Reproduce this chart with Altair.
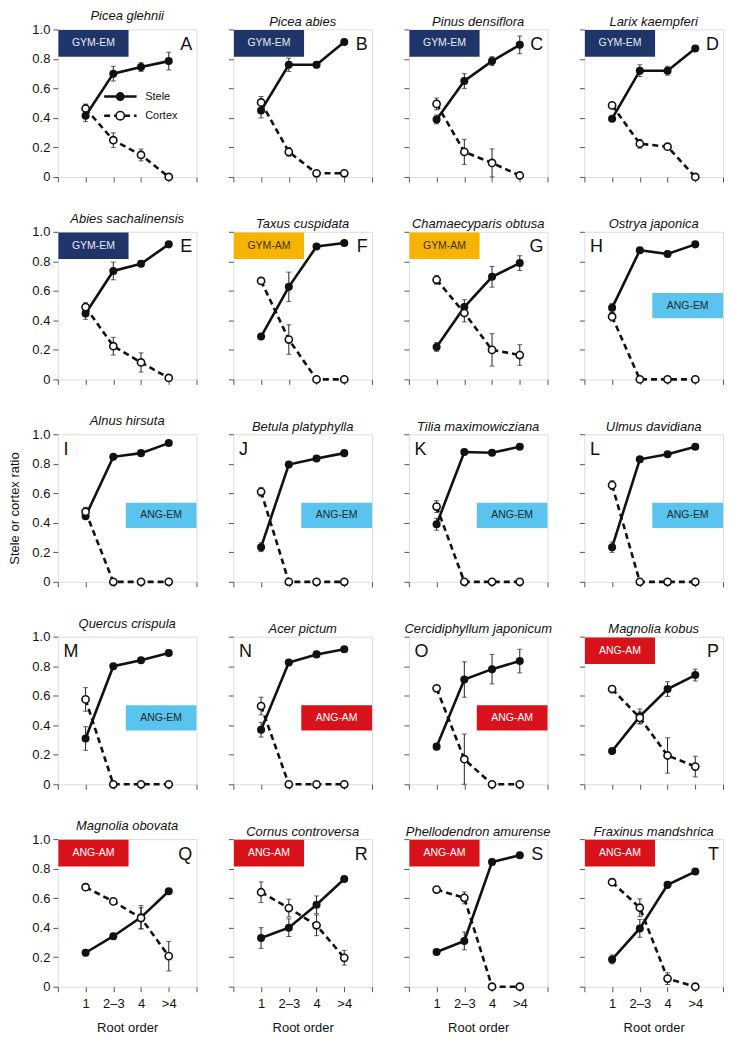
import altair as alt
import pandas as pd

FONT = "Liberation Sans"

species = ["Picea glehnii", "Picea abies", "Pinus densiflora", "Larix kaempferi",
           "Abies sachalinensis", "Taxus cuspidata", "Chamaecyparis obtusa", "Ostrya japonica",
           "Alnus hirsuta", "Betula platyphylla", "Tilia maximowicziana", "Ulmus davidiana",
           "Quercus crispula", "Acer pictum", "Cercidiphyllum japonicum", "Magnolia kobus",
           "Magnolia obovata", "Cornus controversa", "Phellodendron amurense", "Fraxinus mandshrica"]
letters = list("ABCDEFGHIJKLMNOPQRST")
groups = ["GYM-EM"] * 5 + ["GYM-AM"] * 2 + ["ANG-EM"] * 6 + ["ANG-AM"] * 7
x_labels = ["1", "2\u20133", "4", ">4"]
orders = [1, 2, 3, 4]

stele = [
    [0.415, 0.70, 0.745, 0.785], [0.45, 0.76, 0.76, 0.915], [0.39, 0.65, 0.785, 0.895],
    [0.395, 0.72, 0.72, 0.87], [0.447, 0.735, 0.784, 0.915], [0.29, 0.627, 0.90, 0.924],
    [0.22, 0.49, 0.695, 0.788], [0.485, 0.875, 0.85, 0.915], [0.445, 0.847, 0.872, 0.94],
    [0.235, 0.795, 0.835, 0.872], [0.39, 0.88, 0.875, 0.915], [0.235, 0.83, 0.865, 0.915],
    [0.31, 0.80, 0.84, 0.89], [0.37, 0.825, 0.88, 0.915], [0.255, 0.71, 0.78, 0.835],
    [0.225, 0.46, 0.645, 0.74], [0.23, 0.342, 0.47, 0.647], [0.33, 0.40, 0.555, 0.73],
    [0.235, 0.31, 0.845, 0.89], [0.185, 0.395, 0.69, 0.78],
]
stele_err = [
    [0.04, 0.05, 0.03, 0.06], [0.05, 0.045, 0.02, 0], [0.03, 0.05, 0.03, 0.06],
    [0, 0.04, 0.03, 0], [0.04, 0.06, 0.02, 0], [0, 0.1, 0, 0],
    [0.03, 0.05, 0.07, 0.05], [0.03, 0, 0.02, 0], [0.015, 0, 0, 0],
    [0.03, 0, 0, 0], [0.04, 0, 0, 0], [0.035, 0, 0, 0],
    [0.08, 0, 0, 0.02], [0.05, 0, 0, 0], [0, 0.12, 0.1, 0.08],
    [0, 0.05, 0.05, 0.04], [0.02, 0.02, 0.08, 0], [0.07, 0.06, 0.06, 0],
    [0, 0.06, 0.02, 0], [0.03, 0.06, 0.02, 0],
]
cortex = [
    [0.464, 0.249, 0.149, 0.0], [0.505, 0.17, 0.025, 0.025], [0.495, 0.17, 0.095, 0.01],
    [0.485, 0.225, 0.205, 0.0], [0.49, 0.225, 0.115, 0.01], [0.667, 0.27, 0.0, 0.0],
    [0.675, 0.45, 0.2, 0.165], [0.425, 0, 0, 0], [0.475, 0, 0, 0],
    [0.61, 0, 0, 0], [0.51, 0, 0, 0], [0.655, 0, 0, 0],
    [0.575, 0, 0, 0], [0.53, 0, 0, 0], [0.65, 0.17, 0.0, 0.0],
    [0.645, 0.45, 0.195, 0.12], [0.674, 0.578, 0.465, 0.207], [0.64, 0.533, 0.416, 0.196],
    [0.658, 0.602, 0.0, 0.0], [0.708, 0.535, 0.055, 0.0],
]
cortex_err = [
    [0.03, 0.05, 0.04, 0], [0.04, 0.03, 0, 0], [0.04, 0.085, 0.095, 0],
    [0, 0.03, 0, 0], [0.03, 0.06, 0.065, 0], [0, 0.1, 0, 0],
    [0.03, 0.06, 0.11, 0.07], [0.03, 0, 0, 0], [0.03, 0, 0, 0],
    [0.03, 0, 0, 0], [0.04, 0, 0, 0], [0.03, 0, 0, 0],
    [0.08, 0, 0, 0], [0.06, 0, 0, 0], [0, 0.17, 0, 0],
    [0, 0.04, 0.12, 0.07], [0, 0, 0.07, 0.1], [0.07, 0.06, 0.07, 0.05],
    [0, 0.04, 0, 0], [0, 0.06, 0.04, 0],
]
# placement of the group label box: top-left or middle-right
box_place = ["tl"] * 7 + ["mr"] * 8 + ["tl"] * 5

group_fill = {"GYM-EM": "#1f3468", "GYM-AM": "#f6b400", "ANG-EM": "#5bc4ee", "ANG-AM": "#d7121b"}
group_text = {"GYM-EM": "#e8e8f0", "GYM-AM": "#3a3020", "ANG-EM": "#1c2a33", "ANG-AM": "#ffffff"}

W, H = 139, 148
xscale = alt.Scale(domain=[0, 5], nice=False, zero=False)
yscale = alt.Scale(domain=[0, 1], nice=False)
lab_list = "[" + ",".join("'" + s + "'" for s in x_labels) + "]"
x_label_expr = f"datum.value >= 1 && datum.value <= 4 ? {lab_list}[datum.value - 1] : ''"


def panel(i):
    row, col = divmod(i, 4)
    bottom = row == 4
    left = col == 0
    xaxis = alt.Axis(values=[0, 1, 2, 3, 4, 5], labels=bottom, labelExpr=x_label_expr,
                     title="Root order" if bottom else None, ticks=True, tickSize=5,
                     tickColor="#555", domain=False, grid=False, labelFontSize=13,
                     labelPadding=6, titleFontSize=13, titleFontWeight="normal",
                     titlePadding=11, labelFont=FONT, titleFont=FONT, labelColor="#111",
                     titleColor="#111")
    yaxis = alt.Axis(values=[0, 0.2, 0.4, 0.6, 0.8, 1.0], labels=left,
                     labelExpr="datum.value == 0 ? '0' : format(datum.value, '.1f')",
                     title="Stele or cortex ratio" if (left and row == 2) else None,
                     tickSize=5, tickColor="#555", domain=False, grid=False,
                     labelFontSize=13, labelPadding=3, titleFontSize=13,
                     titleFontWeight="normal", titlePadding=10, labelFont=FONT,
                     titleFont=FONT, labelColor="#111", titleColor="#111")
    X = alt.X("x:Q", scale=xscale, axis=xaxis)
    Y = alt.Y("v:Q", scale=yscale, axis=yaxis)

    sd = pd.DataFrame({"x": orders, "v": stele[i], "err": stele_err[i]})
    cd = pd.DataFrame({"x": orders, "v": cortex[i], "err": cortex_err[i]})
    ed = pd.concat([sd, cd])
    ed = ed[ed["err"] > 0].copy()
    ed["lo"] = ed["v"] - ed["err"]
    ed["hi"] = ed["v"] + ed["err"]

    g = groups[i]
    if box_place[i] == "tl":
        bx = {"x": 0.02, "x2": 2.55, "v": 0.995, "v2": 0.815}
        lx, lalign = 4.85, "right"
    else:
        top = 0.585 if letters[i] == "H" else 0.535
        bx = {"x": 2.45, "x2": 5.0, "v": top, "v2": top - 0.17}
        lx, lalign = 0.2, "left"
    bd = pd.DataFrame([{**bx, "xm": (bx["x"] + bx["x2"]) / 2, "vm": (bx["v"] + bx["v2"]) / 2,
                        "label": g}])
    ld = pd.DataFrame({"x": [lx], "v": [0.895], "label": [letters[i]]})

    layers = [
        alt.Chart(bd).mark_rect(color=group_fill[g]).encode(
            x=X, x2="x2:Q", y=Y, y2="v2:Q"),
        alt.Chart(bd).mark_text(color=group_text[g], fontSize=10.5, font=FONT).encode(
            x=alt.X("xm:Q", scale=xscale, axis=xaxis), y=alt.Y("vm:Q", scale=yscale, axis=yaxis),
            text="label:N"),
        alt.Chart(ld).mark_text(fontSize=18, font=FONT, align=lalign, color="#111").encode(
            x=X, y=Y, text="label:N"),
        alt.Chart(cd).mark_line(color="#111", strokeWidth=2.6, strokeDash=[6, 4]).encode(x=X, y=Y),
        alt.Chart(sd).mark_line(color="#111", strokeWidth=2.6).encode(x=X, y=Y),
    ]
    if len(ed):
        layers += [
            alt.Chart(ed).mark_rule(color="#222", strokeWidth=1).encode(
                x=X, y=alt.Y("lo:Q", scale=yscale, axis=yaxis), y2="hi:Q"),
            alt.Chart(ed).mark_tick(color="#222", orient="horizontal", size=5, thickness=1).encode(
                x=X, y=alt.Y("lo:Q", scale=yscale, axis=yaxis)),
            alt.Chart(ed).mark_tick(color="#222", orient="horizontal", size=5, thickness=1).encode(
                x=X, y=alt.Y("hi:Q", scale=yscale, axis=yaxis)),
        ]
    layers += [
        alt.Chart(sd).mark_point(shape="circle", filled=True, color="#111", size=65, opacity=1).encode(x=X, y=Y),
        alt.Chart(cd).mark_point(shape="circle", filled=True, fill="white", stroke="#111",
                                 strokeWidth=1.6, size=52, opacity=1).encode(x=X, y=Y),
    ]
    if i == 0:
        legd = pd.DataFrame({"x": [1.67, 1.67], "x2": [2.84, 2.84], "v": [0.545, 0.415],
                             "xm": [2.25, 2.25], "xt": [3.15, 3.15],
                             "label": ["Stele", "Cortex"]})
        s_l = legd.iloc[[0]]
        c_l = legd.iloc[[1]]
        layers += [
            alt.Chart(s_l).mark_rule(color="#111", strokeWidth=2.6).encode(x=X, x2="x2:Q", y=Y),
            alt.Chart(c_l).mark_rule(color="#111", strokeWidth=2.6, strokeDash=[6, 4]).encode(
                x=X, x2="x2:Q", y=Y),
            alt.Chart(s_l).mark_point(shape="circle", filled=True, color="#111", size=80,
                                      opacity=1).encode(x=alt.X("xm:Q", scale=xscale, axis=xaxis), y=Y),
            alt.Chart(c_l).mark_point(shape="circle", filled=True, fill="white", stroke="#111",
                                      strokeWidth=1.6, size=70, opacity=1).encode(
                x=alt.X("xm:Q", scale=xscale, axis=xaxis), y=Y),
            alt.Chart(legd).mark_text(align="left", fontSize=11, font=FONT, color="#111").encode(
                x=alt.X("xt:Q", scale=xscale, axis=xaxis), y=Y, text="label:N"),
        ]
    return alt.layer(*layers).properties(
        width=W, height=H,
        title=alt.TitleParams(species[i], fontStyle="italic", fontWeight="normal", fontSize=13,
                              font=FONT, offset=0, anchor="middle", color="#111"),
    )


chart = alt.concat(*[panel(i) for i in range(20)], columns=4,
                   spacing={"row": 55, "column": 37}, bounds="flush").properties(
    padding={"left": 0, "top": 0, "right": 0, "bottom": 0}
).configure_view(stroke="#555", strokeWidth=1).configure(background="white")

chart.save("out.html", embed_options={"renderer": "svg", "actions": False})
